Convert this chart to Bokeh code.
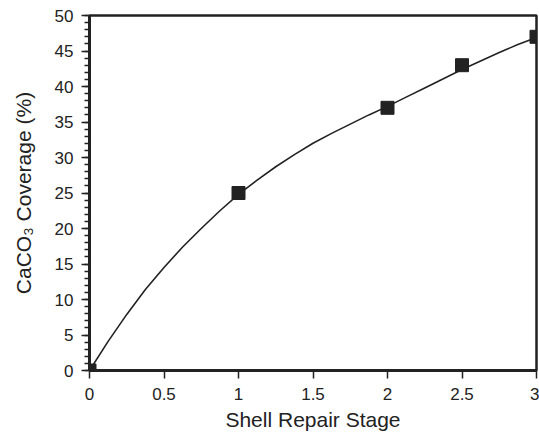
from bokeh.plotting import figure
from bokeh.models import Range1d, FixedTicker, ColumnDataSource
from bokeh.embed import file_html
from bokeh.resources import INLINE

# Measured data (squares)
stage = [0, 1, 2, 2.5, 3]
coverage = [0, 25, 37, 43, 47]

# Fitted curve
curve_stage = [0, 0.125, 0.25, 0.375, 0.5, 0.625, 0.75, 0.875, 1,
               1.125, 1.25, 1.375, 1.5, 1.625, 1.75, 1.875, 2,
               2.125, 2.25, 2.375, 2.5, 2.625, 2.75, 2.875, 3]
curve_cov = [0, 4.1, 7.9, 11.4, 14.5, 17.4, 20.0, 22.5, 24.8,
             26.8, 28.7, 30.4, 32.0, 33.4, 34.7, 36.0, 37.2,
             38.5, 39.8, 41.1, 42.4, 43.6, 44.8, 45.9, 46.9]

x_ticks = [0, 0.5, 1, 1.5, 2, 2.5, 3]
x_tick_labels = ["0", "0.5", "1", "1.5", "2", "2.5", "3"]
y_ticks = [0, 5, 10, 15, 20, 25, 30, 35, 40, 45, 50]
y_minor_ticks = list(range(0, 51))

FONT = "Liberation Sans"
INK = "#222222"

p = figure(width=539, height=433, output_backend="svg", toolbar_location=None,
           x_range=Range1d(0, 3), y_range=Range1d(0, 50),
           min_border_left=89, min_border_right=3, min_border_top=15,
           min_border_bottom=63)
p.background_fill_color = "white"
p.border_fill_color = "white"
p.outline_line_color = INK
p.outline_line_width = 2.5
p.grid.visible = False

p.line(curve_stage, curve_cov, line_color=INK, line_width=1.6)
src = ColumnDataSource(dict(x=stage, y=coverage))
p.scatter("x", "y", source=src, marker="square", size=13,
          fill_color=INK, line_color=INK)

xa = p.xaxis[0]
xa.ticker = FixedTicker(ticks=x_ticks)
xa.major_label_overrides = {t: l for t, l in zip(x_ticks, x_tick_labels)}
xa.axis_label = "Shell Repair Stage"

ya = p.yaxis[0]
ya.ticker = FixedTicker(ticks=y_ticks, minor_ticks=y_minor_ticks)
ya.axis_label = "CaCO\u2083 Coverage (%)"

for ax in (xa, ya):
    ax.axis_line_color = INK
    ax.axis_line_width = 3
    ax.major_tick_line_color = INK
    ax.major_tick_line_width = 1.5
    ax.major_tick_in = 0
    ax.major_tick_out = 8
    ax.minor_tick_in = 0
    ax.minor_tick_out = 5
    ax.minor_tick_line_width = 1.5
    ax.minor_tick_line_color = INK
    ax.major_label_text_font = FONT
    ax.major_label_text_font_size = "17px"
    ax.major_label_text_color = INK
    ax.axis_label_text_font = FONT
    ax.axis_label_text_font_size = "21px"
    ax.axis_label_text_font_style = "normal"
    ax.axis_label_text_color = INK

xa.minor_tick_line_color = None
xa.major_label_standoff = 9
ya.major_label_standoff = 8
xa.axis_label_standoff = 5
ya.axis_label_standoff = 17

open("out.html", "w").write(file_html(p, INLINE))
